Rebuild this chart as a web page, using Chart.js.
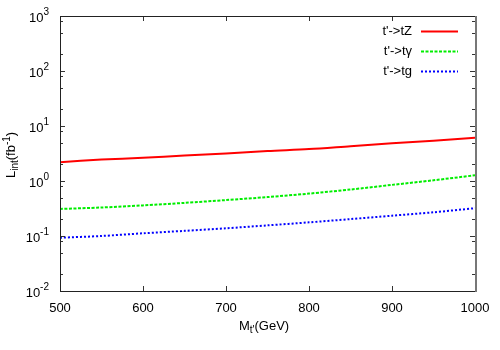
<!DOCTYPE html>
<html><head><meta charset="utf-8">
<script src="https://cdn.jsdelivr.net/npm/chart.js@4"></script>
<style>html,body{margin:0;padding:0;background:#fff}#c{display:block}</style>
</head><body>
<canvas id="c" width="500" height="350"></canvas>
<script>
const masses = [500,550,600,650,700,750,800,850,900,950,1000];
const tZ = [2.2,2.45,2.65,2.9,3.15,3.5,3.8,4.3,4.85,5.4,6.1];
const tGamma = [0.31,0.33,0.36,0.40,0.45,0.51,0.59,0.70,0.85,1.03,1.27];
const tg = [0.093,0.10,0.112,0.124,0.138,0.156,0.177,0.203,0.234,0.27,0.32];
const xTicks = [500,600,700,800,900,1000];
const yExps = [-2,-1,0,1,2,3];
const labels = ["t'->tZ","t'->t\u03b3","t'->tg"];

const FONT = '"Liberation Sans", Arial, sans-serif';
const pts = a => masses.map((m,i)=>({x:m,y:a[i]}));

const drawPlugin = {
  id:'gp',
  afterDraw(chart){
    const ctx = chart.ctx, ca = chart.chartArea;
    const xs = chart.scales.x, ys = chart.scales.y;
    ctx.save();
    ctx.strokeStyle = '#333'; ctx.lineWidth = 1;
    ctx.beginPath();
    xTicks.forEach(v=>{
      const px = Math.round(xs.getPixelForValue(v))+0.5;
      ctx.moveTo(px, ca.bottom); ctx.lineTo(px, ca.bottom-5);
      ctx.moveTo(px, ca.top); ctx.lineTo(px, ca.top+5);
    });
    yExps.forEach(e=>{
      const py = Math.round(ys.getPixelForValue(Math.pow(10,e)))+0.5;
      ctx.moveTo(ca.left, py); ctx.lineTo(ca.left+5, py);
      ctx.moveTo(ca.right, py); ctx.lineTo(ca.right-5, py);
      if (e<3) [2,5,8].forEach(m=>{
        const pm = Math.round(ys.getPixelForValue(m*Math.pow(10,e)))+0.5;
        ctx.moveTo(ca.left, pm); ctx.lineTo(ca.left+3, pm);
        ctx.moveTo(ca.right, pm); ctx.lineTo(ca.right-3, pm);
      });
    });
    ctx.stroke();
    // frame
    ctx.strokeStyle='#222';
    ctx.strokeRect(Math.round(ca.left)+0.5, Math.round(ca.top)+0.5, Math.round(ca.right-ca.left), Math.round(ca.bottom-ca.top));
    ctx.strokeStyle='#777'; ctx.lineWidth=2;
    ctx.beginPath(); ctx.moveTo(Math.round(ca.right)+1, ca.top); ctx.lineTo(Math.round(ca.right)+1, ca.bottom+1); ctx.stroke();
    ctx.fillStyle = '#000';
    // x tick labels
    ctx.font = '13px '+FONT; ctx.textAlign='center'; ctx.textBaseline='middle';
    xTicks.forEach(v=>ctx.fillText(String(v), xs.getPixelForValue(v), ca.bottom+17));
    // y tick labels 10^e
    yExps.forEach(e=>{
      const py = ys.getPixelForValue(Math.pow(10,e));
      const es = String(e);
      ctx.font = '10px '+FONT;
      const ew = ctx.measureText(es).width;
      ctx.font = '13px '+FONT;
      const bw = ctx.measureText('10').width;
      const right = ca.left - 11;
      ctx.textAlign='left';
      ctx.fillText('10', right-ew-bw, py+2);
      ctx.font = '10px '+FONT;
      ctx.fillText(es, right-ew, py-4);
    });
    // x title
    {
      let x = 239, y = 326;
      ctx.textAlign='left';
      ctx.font='13px '+FONT; ctx.fillText('M', x, y); x += ctx.measureText('M').width;
      ctx.font='10px '+FONT; ctx.fillText("t'", x, y+4); x += ctx.measureText("t'").width;
      ctx.font='13px '+FONT; ctx.fillText('(GeV)', x, y);
    }
    // y title
    {
      ctx.save();
      ctx.translate(11, 178);
      ctx.rotate(-Math.PI/2);
      let x = 0;
      ctx.textAlign='left';
      ctx.font='13px '+FONT; ctx.fillText('L', x, 0); x += ctx.measureText('L').width;
      ctx.font='10px '+FONT; ctx.fillText('int', x, 4); x += ctx.measureText('int').width;
      ctx.font='13px '+FONT; ctx.fillText('(fb', x, 0); x += ctx.measureText('(fb').width;
      ctx.font='10px '+FONT; ctx.fillText('-1', x, -4); x += ctx.measureText('-1').width;
      ctx.font='13px '+FONT; ctx.fillText(')', x, 0);
      ctx.restore();
    }
    // legend
    chart.data.datasets.forEach((ds,i)=>{
      const y = 31 + i*20;
      ctx.font='13px '+FONT; ctx.textAlign='right'; ctx.fillStyle='#000';
      ctx.fillText(ds.label, 412, y);
      ctx.beginPath();
      ctx.strokeStyle = ds.borderColor; ctx.lineWidth = ds.borderWidth;
      ctx.setLineDash(ds.borderDash || []);
      ctx.moveTo(421, y+0.5); ctx.lineTo(458, y+0.5);
      ctx.stroke();
      ctx.setLineDash([]);
    });
    ctx.restore();
  }
};

new Chart(document.getElementById('c'), {
  type:'line',
  data:{datasets:[
    {label:labels[0], data:pts(tZ), borderColor:'#ff0000', borderWidth:2, pointRadius:0, tension:0.3},
    {label:labels[1], data:pts(tGamma), borderColor:'#00ee00', borderWidth:2, borderDash:[3,1.5], pointRadius:0, tension:0.3},
    {label:labels[2], data:pts(tg), borderColor:'#0000ff', borderWidth:2, borderDash:[2,2], pointRadius:0, tension:0.3}
  ]},
  options:{
    responsive:false, animation:false,
    layout:{padding:{left:60,right:25,top:16,bottom:59}},
    plugins:{legend:{display:false}, tooltip:{enabled:false}},
    scales:{
      x:{type:'linear', min:500, max:1000, display:false},
      y:{type:'logarithmic', min:0.01, max:1000, display:false}
    }
  },
  plugins:[drawPlugin]
});
</script>
</body></html>
